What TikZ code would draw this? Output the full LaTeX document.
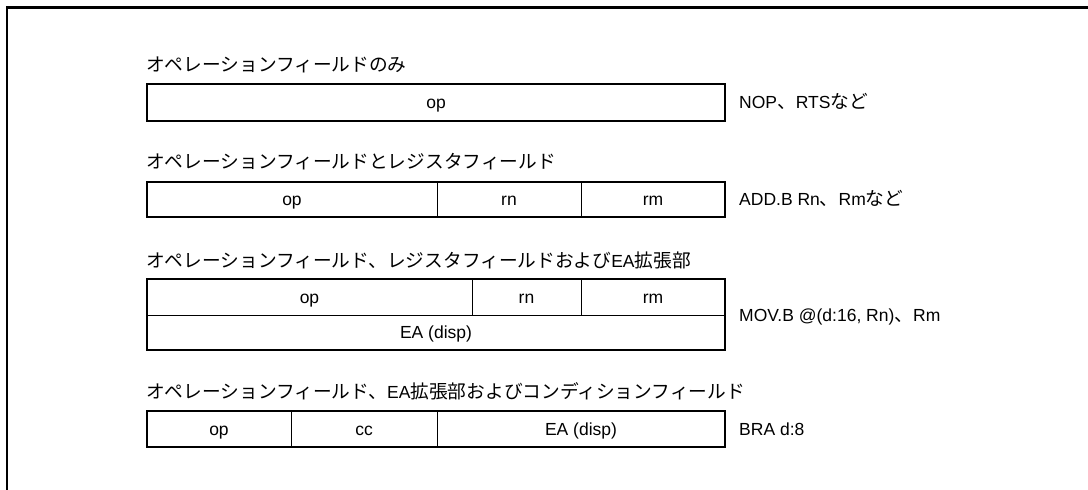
\documentclass[tikz,border=0pt]{standalone}
\usepackage{fontspec}
\setmainfont{Liberation Sans}
\newfontfamily\jp{Noto Sans CJK JP}
\newcommand{\jpsize}{\fontsize{18.7}{20}\selectfont}
\begin{document}
\begin{tikzpicture}[x=1pt,y=-1pt,
  cell/.style={draw, line width=1pt, inner sep=0pt, outer sep=0pt, anchor=north west,
    text height=12.5pt, text depth=0pt, font=\fontsize{17.5}{20}\selectfont},
  outer/.style={draw, line width=2.2pt},
  title/.style={anchor=west, inner sep=0pt, font=\fontsize{17.5}{20}\selectfont},
  lab/.style={anchor=west, inner sep=0pt, text height=12.5pt, text depth=0pt,
    font=\fontsize{17.5}{20}\selectfont},
  frame/.style={line width=2.3pt}]
\useasboundingbox (0,0) rectangle (1088,490);
\draw[frame] (6.7,490) -- (6.7,7.5) -- (1088,7.5);

% Row 1
\node[title] (t1) at (146,65) {\jp\jpsize オペレーションフィールドのみ};
\node[cell, minimum width=578pt, minimum height=37pt] (a1) at (147,84) {op};
\draw[outer] (a1.north west) rectangle (a1.south east);
\node[lab] (l1) at (739,102.5) {NOP{\jp\jpsize 、}RTS{\jp\jpsize など}};

% Row 2
\node[title] (t2) at (146,162) {\jp\jpsize オペレーションフィールドとレジスタフィールド};
\node[cell, minimum width=290pt, minimum height=35pt] (b1) at (147,182) {op};
\node[cell, minimum width=144pt, minimum height=35pt] (b2) at (437,182) {rn};
\node[cell, minimum width=144pt, minimum height=35pt] (b3) at (581,182) {rm};
\draw[outer] (b1.north west) rectangle (b3.south east);
\node[lab] (l2) at (739,199.5) {ADD.B Rn{\jp\jpsize 、}Rm{\jp\jpsize など}};

% Row 3
\node[title] (t3) at (146,260) {{\jp\jpsize オペレーションフィールド、レジスタフィールドおよび}EA{\jp\jpsize 拡張部}};
\node[cell, minimum width=325pt, minimum height=36pt] (c1) at (147,279) {op};
\node[cell, minimum width=109pt, minimum height=36pt] (c2) at (472,279) {rn};
\node[cell, minimum width=144pt, minimum height=36pt] (c3) at (581,279) {rm};
\node[cell, minimum width=578pt, minimum height=35pt] (c4) at (147,315) {EA (disp)};
\draw[outer] (c1.north west) rectangle (c4.south east);
\node[lab] (l3) at (739,315) {MOV.B @(d:16, Rn){\jp\jpsize 、}Rm};

% Row 4
\node[title] (t4) at (146,391) {{\jp\jpsize オペレーションフィールド、}EA{\jp\jpsize 拡張部およびコンディションフィールド}};
\node[cell, minimum width=144pt, minimum height=36pt] (d1) at (147,411) {op};
\node[cell, minimum width=146pt, minimum height=36pt] (d2) at (291,411) {cc};
\node[cell, minimum width=288pt, minimum height=36pt] (d3) at (437,411) {EA (disp)};
\draw[outer] (d1.north west) rectangle (d3.south east);
\node[lab] (l4) at (739,429) {BRA d:8};
\end{tikzpicture}
\end{document}
